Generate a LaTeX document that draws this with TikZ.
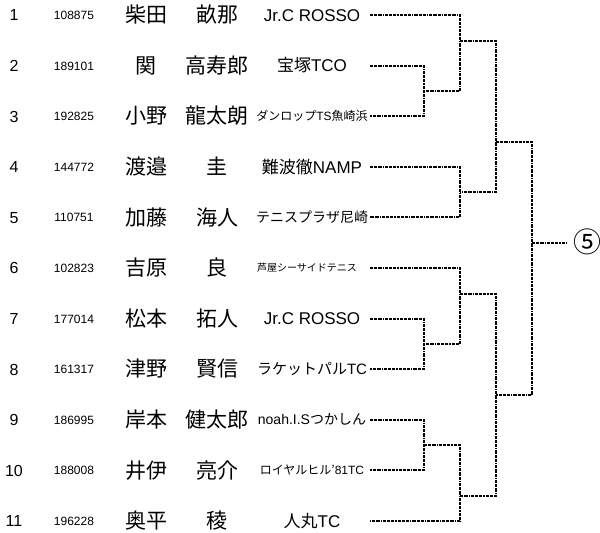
\documentclass[tikz,border=0pt]{standalone}
\usepackage{fontspec}
\setmainfont{Liberation Sans}
\newfontfamily\jp{Noto Sans CJK JP}
\begin{document}
\begin{tikzpicture}[x=1pt,y=-1pt,
  every node/.style={inner sep=0pt},
  num/.style={font=\fontsize{16pt}{16pt}\selectfont, anchor=base, yshift=-5.9pt},
  pid/.style={font=\fontsize{12pt}{12pt}\selectfont, anchor=base, yshift=-4.4pt},
  nm/.style={font=\jp\fontsize{21pt}{21pt}\selectfont, anchor=base, yshift=-7.6pt},
  club/.style={font=\fontsize{#1pt}{#1pt}\selectfont, anchor=base, yshift={-0.37*#1pt}},
  br/.style={line width=1.9pt, dash pattern=on 3.2pt off 1pt on 3.2pt off 1pt on 3.2pt off 1pt on 1.2pt off 1pt}]
\fill[white] (0,0) rectangle (600,533);
\useasboundingbox (0,0) rectangle (600,533);
% rows
\node[num] (r1) at (14,15) {1};
\node[pid] (i1) at (74,15) {108875};
\node[nm] (f1) at (146,15) {柴田};
\node[nm] (g1) at (217,15) {畝那};
\node[club=17] (c1) at (312,15) {Jr.C ROSSO};
\node[num] (r2) at (14,65.6) {2};
\node[pid] (i2) at (74,65.6) {189101};
\node[nm] (f2) at (146,65.6) {関};
\node[nm] (g2) at (217,65.6) {高寿郎};
\node[club=17] (c2) at (312,65.6) {{\jp 宝塚}TCO};
\node[num] (r3) at (14,116.2) {3};
\node[pid] (i3) at (74,116.2) {192825};
\node[nm] (f3) at (146,116.2) {小野};
\node[nm] (g3) at (217,116.2) {龍太朗};
\node[club=12] (c3) at (312,116.2) {{\jp ダンロップ}TS{\jp 魚崎浜}};
\node[num] (r4) at (14,166.8) {4};
\node[pid] (i4) at (74,166.8) {144772};
\node[nm] (f4) at (146,166.8) {渡邉};
\node[nm] (g4) at (217,166.8) {圭};
\node[club=17] (c4) at (312,166.8) {{\jp 難波徹}NAMP};
\node[num] (r5) at (14,217.4) {5};
\node[pid] (i5) at (74,217.4) {110751};
\node[nm] (f5) at (146,217.4) {加藤};
\node[nm] (g5) at (217,217.4) {海人};
\node[club=14] (c5) at (312,217.4) {{\jp テニスプラザ尼崎}};
\node[num] (r6) at (14,268) {6};
\node[pid] (i6) at (74,268) {102823};
\node[nm] (f6) at (146,268) {吉原};
\node[nm] (g6) at (217,268) {良};
\node[club=10] (c6) at (307,268) {{\jp 芦屋シーサイドテニス}};
\node[num] (r7) at (14,318.6) {7};
\node[pid] (i7) at (74,318.6) {177014};
\node[nm] (f7) at (146,318.6) {松本};
\node[nm] (g7) at (217,318.6) {拓人};
\node[club=17] (c7) at (312,318.6) {Jr.C ROSSO};
\node[num] (r8) at (14,369.2) {8};
\node[pid] (i8) at (74,369.2) {161317};
\node[nm] (f8) at (146,369.2) {津野};
\node[nm] (g8) at (217,369.2) {賢信};
\node[club=15] (c8) at (312,369.2) {{\jp ラケットパル}TC};
\node[num] (r9) at (14,419.8) {9};
\node[pid] (i9) at (74,419.8) {186995};
\node[nm] (f9) at (146,419.8) {岸本};
\node[nm] (g9) at (217,419.8) {健太郎};
\node[club=14] (c9) at (312,419.8) {noah.I.S{\jp つかしん}};
\node[num] (r10) at (14,470.4) {10};
\node[pid] (i10) at (74,470.4) {188008};
\node[nm] (f10) at (146,470.4) {井伊};
\node[nm] (g10) at (217,470.4) {亮介};
\node[club=12] (c10) at (312,470.4) {{\jp ロイヤルヒル’}81TC};
\node[num] (r11) at (14,521) {11};
\node[pid] (i11) at (74,521) {196228};
\node[nm] (f11) at (146,521) {奥平};
\node[nm] (g11) at (217,521) {稜};
\node[club=17] (c11) at (312,521) {{\jp 人丸}TC};
% line starts
\coordinate (s1) at (370,15);
\coordinate (s2) at (370,65.6);
\coordinate (s3) at (370,116.2);
\coordinate (s4) at (370,166.8);
\coordinate (s5) at (370,217.4);
\coordinate (s6) at (370,268);
\coordinate (s7) at (370,318.6);
\coordinate (s8) at (370,369.2);
\coordinate (s9) at (370,419.8);
\coordinate (s10) at (370,470.4);
\coordinate (s11) at (370,521);
% junctions
\coordinate (m23) at (424,91);
\coordinate (m1) at (460,41);
\coordinate (m45) at (460,192);
\coordinate (mA) at (496,142);
\coordinate (m78) at (424,344);
\coordinate (m6) at (460,294);
\coordinate (m910) at (424,445);
\coordinate (m11) at (460,496);
\coordinate (mB) at (496,395);
\coordinate (mF) at (532,243);
\coordinate (e) at (567,243);
\draw[br] (s2) -| (m23) |- (s3);
\draw[br] (s1) -| (m1) |- (m23);
\draw[br] (s4) -| (m45) |- (s5);
\draw[br] (m1) -| (mA) |- (m45);
\draw[br] (s7) -| (m78) |- (s8);
\draw[br] (s6) -| (m6) |- (m78);
\draw[br] (s9) -| (m910) |- (s10);
\draw[br] (m910) -| (m11) |- (s11);
\draw[br] (m6) -| (mB) |- (m11);
\draw[br] (mA) -| (mF) |- (mB);
\node[font=\jp\fontsize{28pt}{28pt}\selectfont] (w) at (587,242) {⑤};
\draw[br] (mF) -- (e);
\end{tikzpicture}
\end{document}
